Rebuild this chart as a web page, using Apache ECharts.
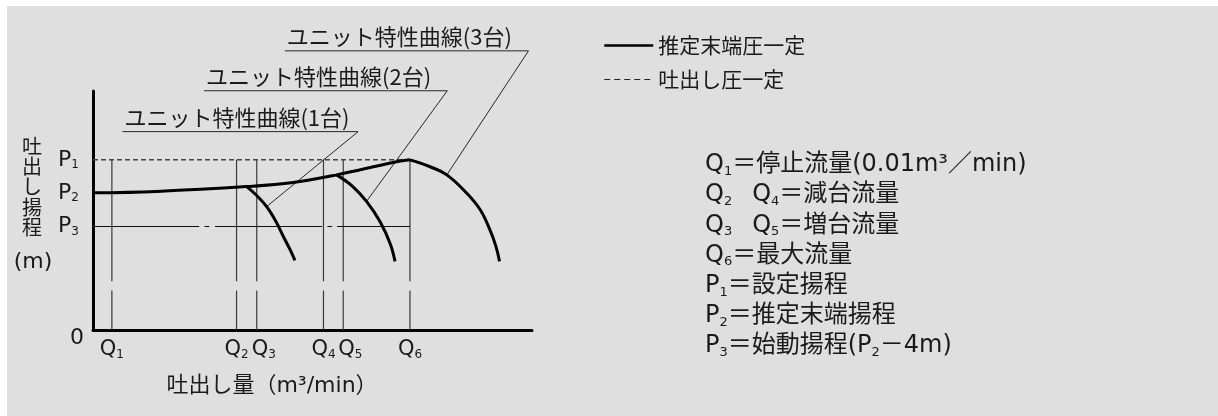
<!DOCTYPE html>
<html>
<head>
<meta charset="utf-8">
<script src="https://cdn.jsdelivr.net/npm/echarts@6/dist/echarts.min.js"></script>
<style>
  html, body { margin: 0; padding: 0; background: #fff; }
  #chart { width: 1218px; height: 416px; }
</style>
</head>
<body>
<div id="chart"></div>
<script>
// 横軸 0-100, 縦軸 0-100 の相対値で読み取り
var qValues = [4.3, 32.7, 37.3, 52.5, 57.0, 72.2];   // Q1..Q6
var qNames = ['1', '2', '3', '4', '5', '6'];
var pValues = [71.2, 57.4, 43.3];                   // P1..P3
var pNames = ['1', '2', '3'];
var qLineBreak = [16.5, 20.4];                      // 縦線の切れ目
var p3Segments = [[0, 24.2], [25.4, 26.5], [27.8, 52.2], [53.4, 54.5], [55.6, 72.2]];

var mainCurve = [[0, 57.4], [14.5, 58.0], [35.0, 60.0], [45.6, 61.7], [55.5, 64.9], [68.3, 70.1], [72.2, 71.2]];
var unit1 = [[35.0, 60.0], [37.3, 56.3], [39.6, 51.5], [41.7, 45.3], [43.5, 38.6], [44.9, 33.6], [46.0, 29.1]];
var unit2 = [[55.5, 64.9], [59.0, 60.3], [62.3, 53.8], [65.4, 45.3], [67.7, 36.1], [68.8, 28.7]];
var unit3 = [[72.2, 71.2], [76.8, 68.3], [80.6, 64.9], [85.1, 57.3], [88.2, 50.3], [90.4, 42.0], [91.8, 34.9], [92.6, 28.7]];

var leader1 = [[6.7, 83.0], [60.4, 83.0], [39.6, 51.7]];
var leader2 = [[25.3, 100.1], [80.7, 100.1], [62.3, 53.8]];
var leader3 = [[43.7, 116.8], [99.2, 116.8], [80.6, 64.9]];
var unitLabels = ['ユニット特性曲線(1台)', 'ユニット特性曲線(2台)', 'ユニット特性曲線(3台)'];

var legendNames = ['推定末端圧一定', '吐出し圧一定'];
var notes = [
  '{t|Q}{s|1}{t|＝停止流量(0.01m³／min)}',
  '{t|Q}{s|2}{t|  \u2009Q}{s|4}{t|＝減台流量}',
  '{t|Q}{s|3}{t|  \u2009Q}{s|5}{t|＝増台流量}',
  '{t|Q}{s|6}{t|＝最大流量}',
  '{t|P}{s|1}{t|＝設定揚程}',
  '{t|P}{s|2}{t|＝推定末端揚程}',
  '{t|P}{s|3}{t|＝始動揚程(P}{s|2}{t|－4m)}'
];

var FONT = '"Noto Sans CJK JP", "Noto Sans", sans-serif';
var FONT_L = '"DejaVu Sans", "Noto Sans CJK JP", sans-serif';
var INK = '#1a1a1a';

var qLines = [];
qValues.forEach(function (q) {
  qLines.push([q, pValues[0]], [q, qLineBreak[1]], [q, '-'], [q, qLineBreak[0]], [q, 0], [q, '-']);
});
var p3Line = [];
p3Segments.forEach(function (s) {
  p3Line.push([s[0], pValues[2]], [s[1], pValues[2]], [s[1], '-']);
});
var leaders = [].concat(leader1, [[0, '-']], leader2, [[0, '-']], leader3);

function thick(name, data) {
  return {
    name: name, type: 'line', data: data, smooth: 0.4, symbol: 'none',
    itemStyle: { color: '#000' },
    lineStyle: { color: '#000', width: 3 }, z: 5, silent: true
  };
}

var chart = echarts.init(document.getElementById('chart'));
var option = {
  backgroundColor: '#fff',
  animation: false,
  textStyle: { fontFamily: FONT },
  grid: { left: 93, top: 91, width: 439, height: 239 },
  legend: {
    orient: 'vertical', left: 598, top: 30, itemWidth: 49, itemHeight: 14, itemGap: 13,
    textStyle: { fontSize: 21, color: INK, fontFamily: FONT },
    itemStyle: { opacity: 0 },
    data: [
      { name: legendNames[0], itemStyle: { opacity: 0 }, lineStyle: { width: 2.5, color: '#000', type: 'solid' } },
      { name: legendNames[1], itemStyle: { opacity: 0 }, lineStyle: { width: 1, color: '#222', type: [6, 4] } }
    ]
  },
  xAxis: {
    type: 'value', min: 0, max: 100,
    axisLine: { lineStyle: { color: '#000', width: 3 } },
    axisTick: { show: false }, splitLine: { show: false },
    axisLabel: {
      customValues: qValues, margin: 9,
      formatter: function (v) {
        var i = qValues.indexOf(v);
        var head = (i === 2 || i === 4) ? 'qr' : 'q';
        return '{' + head + '|Q}{s|' + qNames[i] + '}';
      },
      rich: {
        q: { fontSize: 21, color: INK, fontFamily: FONT_L, lineHeight: 22 },
        qr: { fontSize: 21, color: INK, fontFamily: FONT_L, lineHeight: 22, padding: [0, 0, 0, 14] },
        s: { fontSize: 12, color: INK, fontFamily: FONT_L, lineHeight: 12, verticalAlign: 'bottom' }
      }
    }
  },
  yAxis: {
    type: 'value', min: 0, max: 100,
    axisLine: { lineStyle: { color: '#000', width: 3 } },
    axisTick: { show: false }, splitLine: { show: false },
    axisLabel: {
      customValues: pValues, margin: 14,
      formatter: function (v) {
        return '{p|P}{s|' + pNames[pValues.indexOf(v)] + '}';
      },
      rich: {
        p: { fontSize: 22, color: INK, fontFamily: FONT_L, lineHeight: 22 },
        s: { fontSize: 12, color: INK, fontFamily: FONT_L, lineHeight: 12, verticalAlign: 'bottom' }
      }
    }
  },
  series: [
    thick(legendNames[0], mainCurve),
    thick('unit1', unit1),
    thick('unit2', unit2),
    thick('unit3', unit3),
    {
      name: legendNames[1], type: 'line', symbol: 'none', silent: true, z: 3,
      data: [[0, pValues[0]], [qValues[5], pValues[0]]],
      itemStyle: { color: '#444' },
      lineStyle: { color: '#444', width: 1.5, type: [5, 3] }
    },
    {
      name: 'p3', type: 'line', symbol: 'none', silent: true, z: 3, data: p3Line,
      lineStyle: { color: '#111', width: 1.2 }
    },
    {
      name: 'q', type: 'line', symbol: 'none', silent: true, z: 2, data: qLines,
      lineStyle: { color: '#3a3a3a', width: 1.2 }
    },
    {
      name: 'leader', type: 'line', symbol: 'none', silent: true, z: 4, clip: false, data: leaders,
      lineStyle: { color: '#111', width: 0.9 }
    }
  ]
};
chart.setOption(option);

var graphics = [
  { type: 'rect', z: -10, silent: true, shape: { x: 7, y: 6, width: 1211, height: 410 }, style: { fill: '#dfdfdf' } }
];
[leader1, leader2, leader3].forEach(function (ld, i) {
  var pt = chart.convertToPixel({ gridIndex: 0 }, ld[0]);
  graphics.push({
    type: 'text', silent: true, x: pt[0] + 2, y: pt[1] - 14,
    style: { text: unitLabels[i], fontSize: 22, fontFamily: FONT, fill: INK, verticalAlign: 'middle' }
  });
});
var origin = chart.convertToPixel({ gridIndex: 0 }, [0, 0]);
graphics.push({
  type: 'text', silent: true, x: origin[0] - 16, y: origin[1] + 8,
  style: { text: '0', fontSize: 22, fontFamily: FONT_L, fill: INK, align: 'center', verticalAlign: 'middle' }
});
graphics.push({
  type: 'text', silent: true, x: 32, y: 136,
  style: { text: '吐\n出\nし\n揚\n程', fontSize: 20, lineHeight: 20.3, fontFamily: FONT, fill: INK, align: 'center' }
});
graphics.push({
  type: 'text', silent: true, x: 33, y: 262,
  style: { text: '(m)', fontSize: 22, fontFamily: FONT_L, fill: INK, align: 'center', verticalAlign: 'middle' }
});
graphics.push({
  type: 'text', silent: true, x: 272, y: 386,
  style: { text: '吐出し量（m³/min）', fontSize: 22, fontFamily: FONT_L, fill: INK, align: 'center', verticalAlign: 'middle' }
});
notes.forEach(function (n, i) {
  graphics.push({
    type: 'text', silent: true, x: 705, y: 165 + i * 30.2,
    style: {
      text: n, verticalAlign: 'middle', fill: INK,
      rich: {
        t: { fontSize: 24, fontFamily: FONT_L, fill: INK, lineHeight: 26 },
        s: { fontSize: 13, fontFamily: FONT_L, fill: INK, lineHeight: 13, verticalAlign: 'bottom' }
      }
    }
  });
});
chart.setOption({ graphic: graphics });
</script>
</body>
</html>
